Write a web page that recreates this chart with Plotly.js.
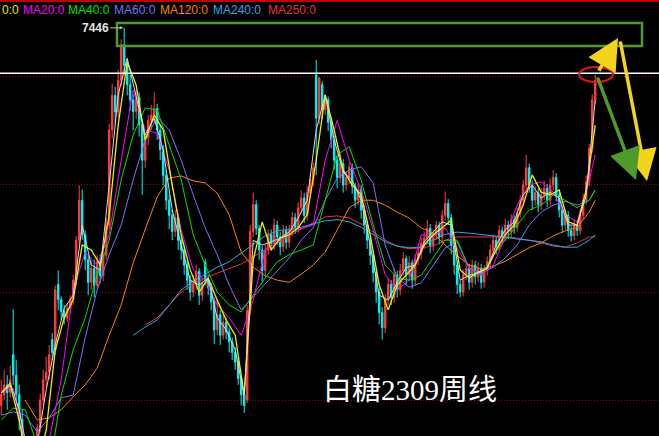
<!DOCTYPE html>
<html>
<head>
<meta charset="utf-8">
<script src="https://cdn.plot.ly/plotly-3.0.1.min.js"></script>
<style>
html,body{margin:0;padding:0;background:#000;}
#chart{width:659px;height:436px;}
</style>
</head>
<body>
<div id="chart"></div>
<script>
// ---- weekly candles (白糖 SR2309 weekly) ----
const openP = [3950,4050,4140,4070,4420,4230,4050,3820,3580,3490,3440,3520,3560,3740,4000,4190,4260,4560,4460,5070,
4930,4820,4760,4850,4930,5110,5480,5850,5530,5300,5090,5220,5060,5280,5150,5340,5620,6500,6820,6670,
6960,7290,7100,6920,6780,6670,6800,6550,6220,6430,6590,6640,6700,6500,6320,6080,5850,5710,5560,5690,
5480,5390,5250,5110,5000,5080,5190,4970,5280,5110,5040,4910,4650,4790,4600,4720,4630,4540,4440,4350,
4200,4050,4000,4830,5560,5810,5590,5390,5200,5390,5530,5450,5620,5510,5420,5570,5460,5570,5690,5600,
5780,5870,5710,5920,6040,7010,6610,6920,6690,6780,6570,6410,6220,6060,6190,5990,6060,6150,5980,5850,
5950,5760,5620,5480,5340,5180,5000,4810,4670,4930,5070,4950,5160,5020,5200,5310,5160,5270,5110,5300,
5360,5450,5500,5590,5430,5530,5620,5510,5710,5820,5690,5430,5250,5070,5000,5160,5220,5090,5250,5140,
5220,5090,5200,5280,5390,5480,5420,5570,5510,5620,5560,5670,5600,5730,5850,5990,6150,5990,5850,5920,
5810,5900,5960,5850,5990,6060,5900,5760,5620,5710,5570,5520,5620,5570,5710,5850,6020,6330,6780];
const highP = [4190,4280,4230,4320,4840,4370,4140,3910,3630,3560,3580,3620,3780,4060,4280,4400,4510,4620,5060,5200,
4960,4880,4900,4970,5160,5520,5990,5950,5570,5340,5290,5300,5340,5350,5400,5690,6560,6930,6900,7060,
7340,7446,7150,7010,6830,6870,6850,6600,6470,6640,6730,6850,6740,6550,6360,6130,5900,5760,5760,5720,
5530,5430,5300,5160,5160,5250,5220,5130,5310,5160,5080,4950,4930,4830,4790,4760,4670,4580,4490,4400,
4230,4100,4880,5620,5920,5850,5620,5430,5440,5580,5580,5680,5660,5560,5620,5610,5620,5740,5730,5830,
5940,5920,5980,6100,6200,7150,6990,6950,6830,6810,6620,6450,6260,6270,6230,6120,6200,6190,6010,6000,
5990,5800,5660,5510,5380,5220,5040,4860,4980,5130,5110,5220,5200,5260,5370,5340,5330,5300,5350,5440,
5500,5560,5670,5630,5580,5660,5650,5760,5930,5860,5720,5470,5290,5110,5210,5280,5260,5300,5290,5280,
5260,5250,5330,5440,5530,5520,5620,5610,5680,5660,5720,5710,5780,5900,6040,6270,6190,6030,5980,5960,
5960,6030,6000,6050,6130,6100,5940,5800,5760,5750,5610,5670,5660,5770,5910,6080,6370,6830,7010];
const lowP = [3860,4000,3910,4020,4140,3950,3720,3490,3400,3380,3400,3470,3520,3700,3950,4120,4190,4370,4420,4830,
4740,4700,4720,4800,4880,5060,5440,5480,5200,4970,5020,4950,5020,5080,5100,5300,5580,6420,6560,6620,
6910,7010,6820,6680,6500,6600,6440,5900,6150,6360,6500,6560,6410,6220,5990,5760,5580,5480,5510,5390,
5300,5160,5020,4920,4950,5020,4880,4920,5060,4970,4830,4520,4600,4510,4560,4560,4440,4370,4280,4140,
3950,3880,3970,4790,5510,5530,5300,5090,5150,5340,5380,5390,5440,5340,5370,5400,5410,5520,5540,5550,
5730,5640,5660,5870,5980,6080,6550,6600,6640,6490,6330,6130,5960,6010,5920,5940,6000,5910,5780,5800,
5680,5540,5400,5250,5090,4900,4700,4560,4620,4880,4880,4900,4950,4970,5150,5070,5100,5030,5060,5250,
5300,5400,5450,5360,5380,5480,5440,5460,5660,5620,5350,5160,4980,4950,4960,5110,5020,5040,5070,5090,
5030,5040,5150,5230,5340,5350,5380,5440,5470,5490,5510,5540,5560,5690,5800,5940,5920,5760,5800,5740,
5760,5850,5790,5800,5940,5840,5690,5550,5570,5510,5470,5480,5520,5530,5670,5810,5980,6290,6740];
const closeP = [4050,4140,4070,4190,4230,4050,3820,3580,3490,3440,3520,3560,3740,4000,4190,4260,4420,4440,5020,4930,
4820,4760,4850,4930,5110,5480,5850,5530,5300,5090,5220,5060,5280,5150,5340,5620,6500,6820,6670,6960,
7290,7100,6920,6780,6670,6800,6550,6220,6430,6590,6640,6700,6500,6320,6080,5850,5710,5560,5690,5480,
5390,5250,5110,5000,5080,5190,4970,5080,5110,5040,4910,4650,4790,4600,4720,4630,4540,4440,4350,4200,
4050,3950,4830,5560,5810,5590,5390,5200,5390,5530,5450,5620,5510,5420,5570,5460,5570,5690,5600,5780,
5870,5710,5920,6040,6150,6610,6980,6690,6780,6570,6410,6220,6060,6190,5990,6060,6150,5980,5850,5950,
5760,5620,5480,5340,5180,5000,4810,4670,4930,5070,4950,5160,5020,5200,5310,5160,5270,5110,5300,5360,
5450,5500,5590,5430,5530,5620,5510,5710,5820,5690,5430,5250,5070,5000,5160,5220,5090,5250,5140,5220,
5090,5200,5280,5390,5480,5420,5570,5510,5620,5560,5670,5600,5730,5850,5990,6150,5990,5850,5920,5810,
5900,5960,5850,5990,6060,5900,5760,5620,5710,5570,5520,5620,5570,5710,5850,6020,6330,6780,6960];

// ---- moving averages ----
// MA5 / MA10 sampled every 3 weeks, the others every 4 weeks (plus last week)
const ma5 = [4065,4160,3910,3490,3585,4095,4510,4850,4970,5620,5250,5205,5990,6825,7165,6795,6455,6610,6315,5760,
5435,5110,5065,5130,4760,4650,4465,4045,5480,5435,5465,5500,5555,5685,5850,6500,6825,6410,6110,6035,
5850,5435,4970,4925,5090,5225,5250,5465,5555,5650,5620,5110,5155,5175,5220,5435,5575,5650,5900,5990,
5870,5925,5870,5620,5620,5900,6780];
const ma10 = [4065,4140,3815,3350,3400,3720,4460,4760,4930,5435,5390,5250,5710,6545,7130,6915,6410,6640,6500,5990,
5530,5205,5000,5130,4925,4740,4600,4045,5295,5650,5390,5500,5530,5595,5715,6220,6825,6500,6130,5990,
5900,5530,5065,4835,5065,5160,5250,5435,5530,5595,5665,5205,5130,5185,5220,5390,5530,5620,5805,6085,
5925,5900,5945,5650,5620,5945,6545];
const ma20 = [4090,4110,3630,3305,3630,4185,5020,5370,5250,5530,6220,6870,6500,6470,6130,5575,5205,5110,4880,4760,
4600,4925,5390,5480,5555,5590,5620,6220,6590,6220,5945,5575,5160,5020,5110,5530,5510,5595,5410,5220,
5160,5250,5510,5805,5990,6020,5925,5715,5650,6035,6270];
const ma40 = [3815,3925,3910,3585,3350,4045,4465,4760,5160,5480,6040,6455,6705,6685,6360,6040,5530,5250,5000,4880,
4815,4975,5130,5280,5345,5390,5435,5850,6270,6345,6035,5620,5250,5130,5110,5155,5315,5480,5480,5220,
5155,5345,5480,5620,5760,5805,5900,5850,5780,5850,5945];
const ma60 = [3860,3890,3860,3705,3835,4020,4045,4580,5020,5345,5620,6040,6410,6620,6500,6220,5900,5595,5345,5065,
4835,4955,5065,5185,5315,5480,5595,5850,6055,6130,6160,6010,5435,5130,5045,5085,5250,5410,5465,5220,
5175,5230,5315,5435,5620,5740,5805,5840,5805,5850,5945];
const ma120 = [4000,3815,3835,3910,4030,4140,4295,4600,4880,5270,5580,5880,6055,6075,6030,6010,5915,5715,5370,5230,
5150,5110,5090,5165,5250,5370,5575,5780,5850,5850,5805,5740,5685,5595,5545,5435,5335,5250,5215,5240,
5285,5350,5410,5455,5520,5565,5600,5740,5850];
const ma240 = [4600,4675,4740,4880,5020,5100,5165,5230,5280,5360,5445,5520,5565,5585,5600,5630,5660,5670,5650,5600,
5530,5465,5425,5410,5415,5480,5535,5555,5545,5530,5520,5510,5490,5480,5465,5435,5415,5415,5480,5530];
const ma250 = [4695,4760,4880,5000,5075,5130,5175,5215,5260,5325,5390,5455,5520,5585,5640,5695,5705,5685,5630,5555,
5480,5425,5400,5410,5425,5480,5510,5510,5510,5510,5510,5500,5480,5455,5425,5415,5455,5510,5510].slice(0,39);

const legendItems = ["0:0","MA20:0","MA40:0","MA60:0","MA120:0","MA240:0","MA250:0"];
const lastPriceLine = 7025;
const gridLevels = [4000,5000,6000,7000];
const peakLabel = "7446";
const chartTitle = "白糖2309周线";

// ---- week indices ----
const weeks = closeP.map((_, i) => i);
const lastWeek = weeks.length - 1;
const w3 = weeks.filter(i => i % 3 === 0);
const w4 = weeks.filter(i => i % 4 === 0); if (w4[w4.length-1] !== lastWeek) w4.push(lastWeek);
const w4from = s => w4.filter(i => i >= s);

const maColors = {ma5:'#d8d8d8', ma10:'#f0f000', ma20:'#ff00ff', ma40:'#00e000', ma60:'#7474ff',
  ma120:'#ff8000', ma240:'#2fa8e8', ma250:'#e8304c'};
const legendColors = ['#e6e600','#ff00ff','#00e000','#7474ff','#ff8000','#2fa8e8','#e8304c'];
const legendX = [0, 21, 66, 112, 158, 211, 266];

function line(x, y, color, w) {
  return {type:'scatter', mode:'lines', x:x, y:y, line:{color:color, width:w||1}, hoverinfo:'skip', showlegend:false};
}

const traces = [
  {type:'candlestick', x:weeks, open:openP, high:highP, low:lowP, close:closeP,
   increasing:{line:{color:'#ff3d3d', width:1}, fillcolor:'#ff3d3d'},
   decreasing:{line:{color:'#00f4f4', width:1}, fillcolor:'#00f4f4'},
   whiskerwidth:0, hoverinfo:'skip', showlegend:false},
  line(w4from(48), ma250, maColors.ma250),
  line(w4from(44), ma240, maColors.ma240),
  line(w4from(8), ma120, maColors.ma120),
  line(w4, ma60, maColors.ma60),
  line(w4, ma40, maColors.ma40),
  line(w4, ma20, maColors.ma20),
  line(w3, ma10, maColors.ma10, 1.3),
  line(w3, ma5, maColors.ma5, 1)
];

const W = 659, H = 436;
const px = v => v / W, py = v => 1 - v / H;

const annotations = legendItems.map((t, k) => ({
  xref:'paper', yref:'paper', x:px(legendX[k]), y:py(10), xanchor:'left', yanchor:'middle',
  text:t, showarrow:false, font:{family:'Liberation Sans, Arial, sans-serif', size:12, color:legendColors[k]}
}));
annotations.push({
  xref:'x', yref:'y', x:41, y:7446, text:'<b>'+peakLabel+'</b>', showarrow:true,
  ax:-29, ay:0, arrowhead:2, arrowsize:0.7, arrowwidth:1, arrowcolor:'#bdbdbd', standoff:1,
  font:{family:'Liberation Sans, Arial, sans-serif', size:12, color:'#e6e6e6'}
});
annotations.push({
  xref:'paper', yref:'paper', x:px(410), y:py(390), xanchor:'center', yanchor:'middle',
  text:chartTitle, showarrow:false,
  font:{family:'Liberation Serif, Noto Sans CJK SC, serif', size:29, color:'#ffffff'}
});
// hand-drawn arrows
const arrowDefs = [
  {hx:618, hy:38, ax:-20, ay:34, c:'#f3d41a'},
  {hx:647, hy:181, ax:-27, ay:-141, c:'#f3d41a'},
  {hx:636, hy:180, ax:-39, ay:-104, c:'#4e9a2a'}
];
arrowDefs.forEach(a => annotations.push({
  xref:'paper', yref:'paper', x:px(a.hx), y:py(a.hy), ax:a.ax, ay:a.ay, text:'',
  showarrow:true, arrowhead:2, arrowsize:1.8, arrowwidth:3.5, arrowcolor:a.c, standoff:0, startstandoff:0
}));

const shapes = [
  {type:'line', xref:'paper', yref:'paper', x0:0, x1:1, y0:py(1), y1:py(1), line:{color:'#c00000', width:2}},
  {type:'line', xref:'paper', yref:'y', x0:0, x1:1, y0:lastPriceLine, y1:lastPriceLine, line:{color:'#ffffff', width:1.5}},
  {type:'rect', xref:'paper', yref:'paper', x0:px(117), x1:px(642), y0:py(46), y1:py(23), line:{color:'#4f9a2f', width:2.5}},
  {type:'circle', xref:'paper', yref:'paper', x0:px(579), x1:px(613), y0:py(82), y1:py(67), line:{color:'#e01818', width:2}}
];

const layout = {
  width:W, height:H, margin:{l:0, r:0, t:0, b:0},
  paper_bgcolor:'#000', plot_bgcolor:'#000', showlegend:false,
  xaxis:{range:[-0.4, 219.27], showgrid:false, zeroline:false, showticklabels:false, ticks:'', showline:false,
         rangeslider:{visible:false}, fixedrange:true},
  yaxis:{range:[3667, 7704], tickvals:gridLevels, showticklabels:false, ticks:'', showline:false, zeroline:false,
         showgrid:true, gridcolor:'#9a0000', griddash:'1px,2px', gridwidth:1, fixedrange:true},
  annotations:annotations, shapes:shapes
};

Plotly.newPlot('chart', traces, layout, {staticPlot:true, displayModeBar:false});
</script>
</body>
</html>
